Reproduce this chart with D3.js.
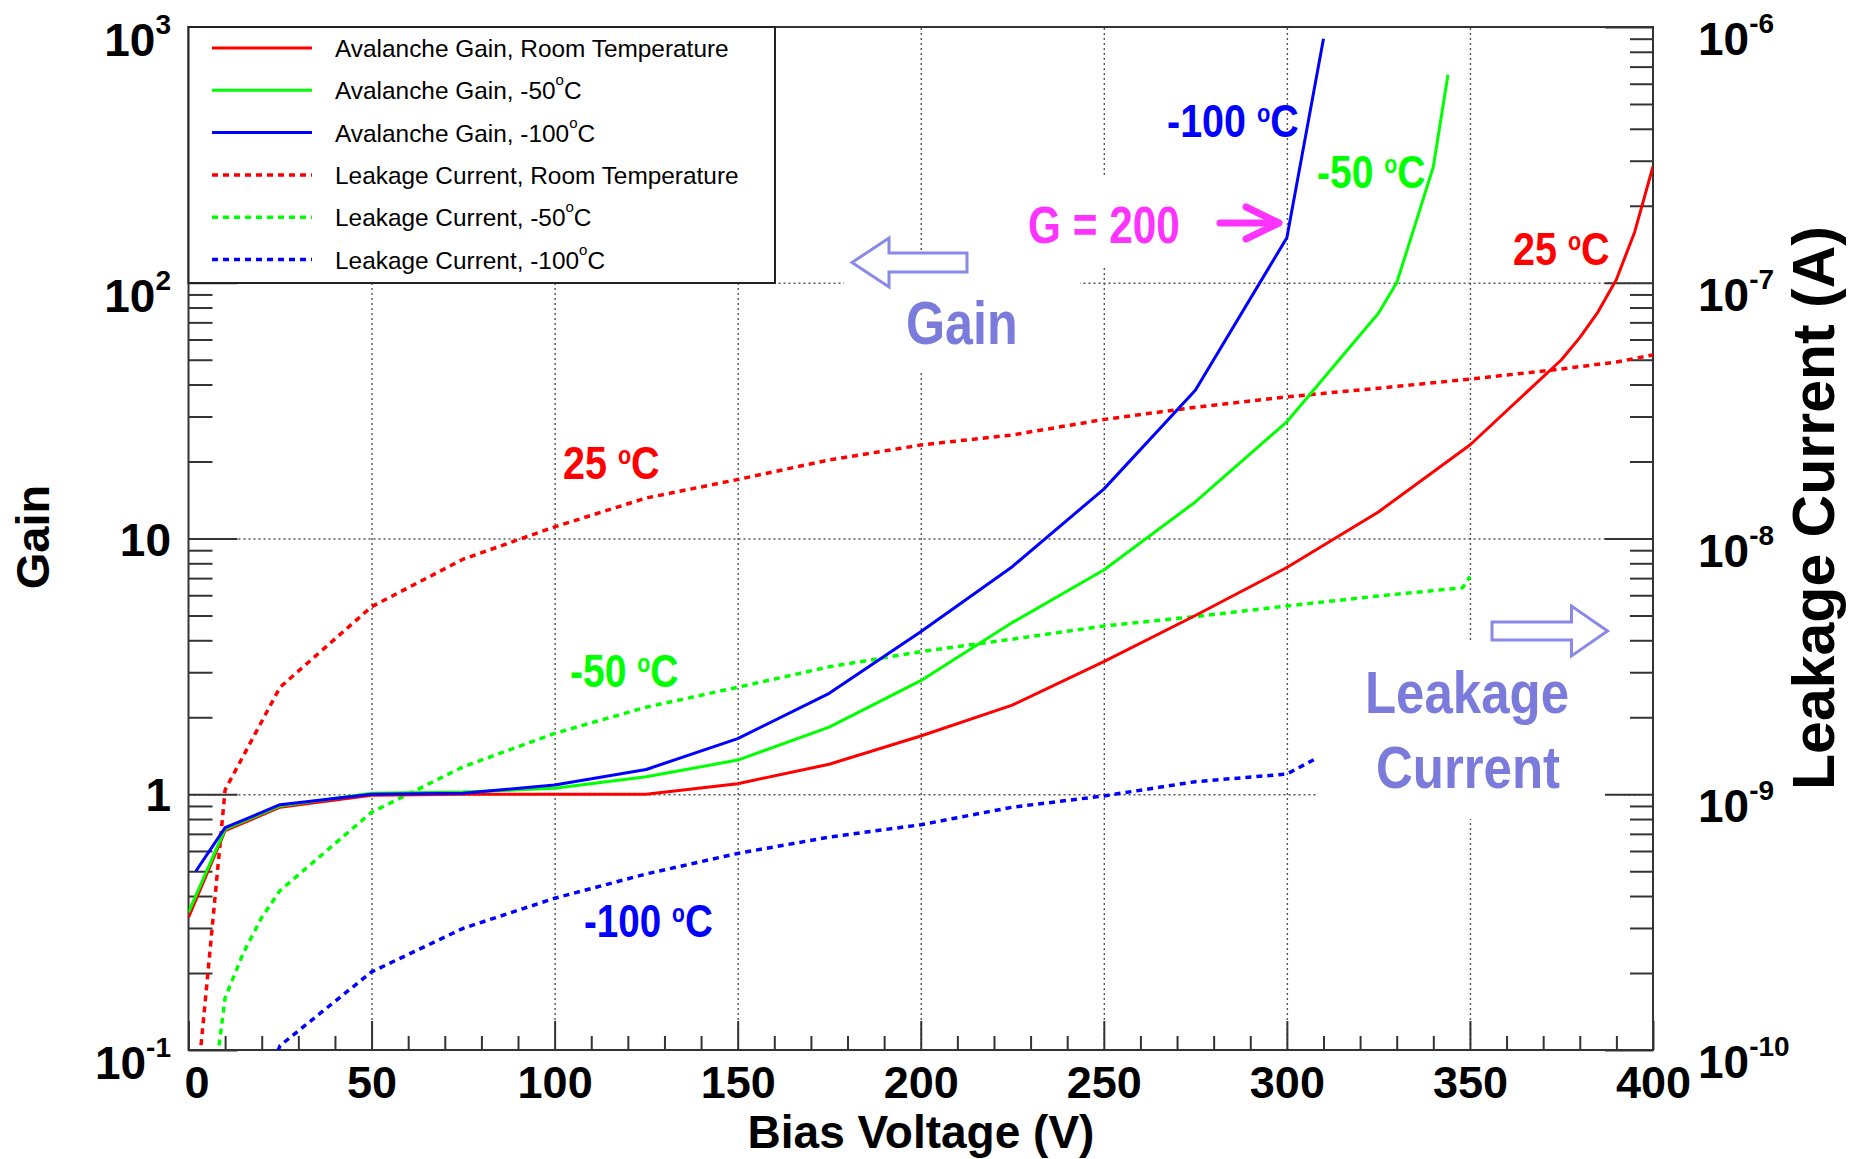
<!DOCTYPE html>
<html><head><meta charset="utf-8">
<script src="https://cdn.jsdelivr.net/npm/d3@7"></script>
<style>html,body{margin:0;padding:0;background:#fff;}svg{display:block;}</style>
</head><body>
<script>
// ---------------- DATA ----------------
const xMajorTicks = [0,50,100,150,200,250,300,350,400];
const gainTicks = [0.1,1,10,100,1000];
const gainTickLabels = [["10","-1"],["1",""],["10",""],["10","2"],["10","3"]];
const leakTicks = [1e-10,1e-9,1e-8,1e-7,1e-6];
const leakTickLabels = [["10","-10"],["10","-9"],["10","-8"],["10","-7"],["10","-6"]];

const voltsGainRoom = [0,10,25,50,75,100,125,150,175,200,225,250,275,300,325,350,375,380,385,390,395,400];
const gainRoom      = [0.33,0.72,0.89,0.99,1.0,1.0,1.0,1.10,1.31,1.69,2.23,3.30,5.0,7.7,12.7,23.2,50,61,77,103,158,285];

const voltsGain50 = [0,10,25,50,75,100,125,150,175,200,225,250,275,300,325,330,335,340,344];
const gain50      = [0.345,0.73,0.90,1.01,1.02,1.055,1.17,1.36,1.83,2.78,4.69,7.53,13.9,28.6,76,100,168,284,650];

const voltsGain100 = [2,10,25,50,75,100,125,150,175,200,225,250,275,300,310];
const gain100      = [0.50,0.74,0.91,1.0,1.01,1.087,1.25,1.65,2.48,4.32,7.76,15.6,38,150,900];

const voltsLeakRoom = [0,5,10,25,50,75,100,125,150,175,200,225,250,275,300,325,350,375,390,400];
const leakRoom      = [3.2e-11,1.8e-10,1.04e-9,2.62e-9,5.41e-9,8.3e-9,1.11e-8,1.44e-8,1.70e-8,2.03e-8,2.32e-8,2.54e-8,2.92e-8,3.26e-8,3.58e-8,3.87e-8,4.2e-8,4.6e-8,4.9e-8,5.22e-8];

const voltsLeak50 = [0,10,15,20,25,50,75,100,125,150,175,200,225,250,275,300,325,348,350];
const leak50      = [1.2e-11,1.6e-10,2.4e-10,3.3e-10,4.2e-10,8.5e-10,1.28e-9,1.73e-9,2.19e-9,2.62e-9,3.15e-9,3.61e-9,4.04e-9,4.55e-9,4.95e-9,5.45e-9,5.96e-9,6.42e-9,7.1e-9];

const voltsLeak100 = [10,25,50,75,100,125,150,175,200,225,250,275,300,308];
const leak100      = [3e-11,1.04e-10,2.02e-10,2.99e-10,3.92e-10,4.88e-10,5.87e-10,6.8e-10,7.6e-10,8.9e-10,9.85e-10,1.12e-9,1.2e-9,1.38e-9];

const legendLabels = [
  ["Avalanche Gain, Room Temperature", ""],
  ["Avalanche Gain, -50", "C"],
  ["Avalanche Gain, -100", "C"],
  ["Leakage Current, Room Temperature", ""],
  ["Leakage Current, -50", "C"],
  ["Leakage Current, -100", "C"]
];

// ---------------- LAYOUT ----------------
const W = 1861, H = 1159;
const L = 188.5, R = 1653, T = 27, B = 1050;
const FONT = "'Liberation Sans', Arial, Helvetica, sans-serif";
const RED = "#ff0000", GREEN = "#00ff00", BLUE = "#0000ff";
const LAV = "#7b7bdc", LAV2 = "#8a8ae6", MAG = "#ff33ff";

const x = d3.scaleLinear().domain([0,400]).range([L,R]);
const yG = d3.scaleLog().domain([0.1,1000]).range([B,T]);
const yL = d3.scaleLog().domain([1e-10,1e-6]).range([B,T]);

const svg = d3.select("body").append("svg").attr("width",W).attr("height",H);
svg.append("rect").attr("width",W).attr("height",H).attr("fill","#fff");

svg.append("defs").append("clipPath").attr("id","plotclip")
  .append("rect").attr("x",L).attr("y",T).attr("width",R-L).attr("height",B-T);

// ---------------- GRID ----------------
const gridX = svg.append("g").attr("transform",`translate(0,${B})`)
  .call(d3.axisBottom(x).tickValues([50,100,150,200,250,300,350]).tickSize(-(B-T)).tickFormat(""));
const gridY = svg.append("g").attr("transform",`translate(${L},0)`)
  .call(d3.axisLeft(yG).tickValues([1,10,100]).tickSize(-(R-L)).tickFormat(""));
[gridX,gridY].forEach(g=>{
  g.select(".domain").remove();
  g.selectAll("line").attr("stroke","#555").attr("stroke-width",1.4).attr("stroke-dasharray","2,3");
});

// white label boxes that cover the grid
const boxes = [[1005,177,200,88],[844,268,236,102],[1316,640,304,179]];
svg.append("g").selectAll("rect").data(boxes).join("rect")
  .attr("x",d=>d[0]).attr("y",d=>d[1]).attr("width",d=>d[2]).attr("height",d=>d[3]).attr("fill","#fff");

// ---------------- AXES ----------------
function styleAxis(g){
  g.select(".domain").remove();
  g.selectAll("line").attr("stroke","#333").attr("stroke-width",2);
}
const minorX = d3.range(0,401,10).filter(v=>v%50!==0);
styleAxis(svg.append("g").attr("transform",`translate(0,${B})`)
  .call(d3.axisBottom(x).tickValues(minorX).tickSizeInner(-14).tickSizeOuter(0).tickFormat("")));
const xAx = svg.append("g").attr("transform",`translate(0,${B})`)
  .call(d3.axisBottom(x).tickValues(xMajorTicks).tickSizeInner(-29).tickSizeOuter(0).tickPadding(16).tickFormat(d3.format("d")));
styleAxis(xAx);
xAx.selectAll("text").attr("font-family",FONT).attr("font-weight","bold").attr("font-size",45).attr("fill","#000");
xAx.selectAll(".tick").filter(d=>d===0).select("text").attr("dx",8);

function minorLog(lo,hi){
  const out=[];
  for(let e=lo;e<hi;e++) for(let m=2;m<=9;m++) out.push(m*Math.pow(10,e));
  return out;
}
const minorGain = minorLog(-1,3);
const minorLeak = minorLog(-10,-6);
styleAxis(svg.append("g").attr("transform",`translate(${L},0)`)
  .call(d3.axisLeft(yG).tickValues(minorGain).tickSizeInner(-24).tickSizeOuter(0).tickFormat("")));
styleAxis(svg.append("g").attr("transform",`translate(${L},0)`)
  .call(d3.axisLeft(yG).tickValues(gainTicks).tickSizeInner(-49).tickSizeOuter(0).tickFormat("")));
styleAxis(svg.append("g").attr("transform",`translate(${R},0)`)
  .call(d3.axisRight(yL).tickValues(minorLeak).tickSizeInner(-23).tickSizeOuter(0).tickFormat("")));
styleAxis(svg.append("g").attr("transform",`translate(${R},0)`)
  .call(d3.axisRight(yL).tickValues(leakTicks).tickSizeInner(-48).tickSizeOuter(0).tickFormat("")));

svg.append("rect").attr("x",L).attr("y",T).attr("width",R-L).attr("height",B-T)
  .attr("fill","none").attr("stroke","#333").attr("stroke-width",2);

// tick labels with exponents
function expLabel(px, py, base, exp, anchor){
  const t = svg.append("text").attr("x",px).attr("y",py).attr("text-anchor",anchor)
    .attr("font-family",FONT).attr("font-weight","bold").attr("font-size",46).attr("fill","#000");
  t.append("tspan").text(base);
  if(exp) t.append("tspan").attr("font-size",28).attr("dy",-22).text(exp);
}
gainTicks.forEach((v,i)=>{
  const lab = gainTickLabels[i];
  expLabel(171, yG(v) + (lab[1] ? 29 : 17), lab[0], lab[1], "end");
});
leakTicks.forEach((v,i)=>{
  const lab = leakTickLabels[i];
  expLabel(1698, yL(v) + 28, lab[0], lab[1], "start");
});

// axis titles
svg.append("text").attr("x",921).attr("y",1148).attr("text-anchor","middle")
  .attr("font-family",FONT).attr("font-weight","bold").attr("font-size",46).text("Bias Voltage (V)");
svg.append("text").attr("transform","translate(49,537) rotate(-90)").attr("text-anchor","middle")
  .attr("font-family",FONT).attr("font-weight","bold").attr("font-size",47).text("Gain");
svg.append("text").attr("transform","translate(1834,508) rotate(-90)").attr("text-anchor","middle")
  .attr("font-family",FONT).attr("font-weight","bold").attr("font-size",59).text("Leakage Current (A)");

// ---------------- CURVES ----------------
const plot = svg.append("g").attr("clip-path","url(#plotclip)");
const lineG = d3.line().x(d=>x(d[0])).y(d=>yG(d[1]));
const lineL = d3.line().x(d=>x(d[0])).y(d=>yL(d[1]));
const series = [
  {v:voltsLeakRoom, d:leakRoom, c:RED, dash:true},
  {v:voltsLeak50, d:leak50, c:GREEN, dash:true},
  {v:voltsLeak100, d:leak100, c:BLUE, dash:true},
  {v:voltsGainRoom, d:gainRoom, c:RED, dash:false},
  {v:voltsGain50, d:gain50, c:GREEN, dash:false},
  {v:voltsGain100, d:gain100, c:BLUE, dash:false}
];
series.forEach(s=>{
  plot.append("path").datum(d3.zip(s.v,s.d))
    .attr("d", s.dash ? lineL : lineG)
    .attr("fill","none").attr("stroke",s.c)
    .attr("stroke-width", s.dash ? 3.5 : 3)
    .attr("stroke-dasharray", s.dash ? "6,5" : null)
    .attr("stroke-linejoin","round");
});

// ---------------- LEGEND ----------------
const leg = svg.append("g");
leg.append("rect").attr("x",L).attr("y",T).attr("width",775-L).attr("height",283-T)
  .attr("fill","#fff").attr("stroke","#222").attr("stroke-width",2);
const legStyles = [[RED,false],[GREEN,false],[BLUE,false],[RED,true],[GREEN,true],[BLUE,true]];
legendLabels.forEach((lab,i)=>{
  const by = 57 + i*42.3;
  leg.append("line").attr("x1",212).attr("x2",312).attr("y1",by-9).attr("y2",by-9)
    .attr("stroke",legStyles[i][0]).attr("stroke-width",legStyles[i][1]?3.5:3)
    .attr("stroke-dasharray",legStyles[i][1]?"6,5":null);
  const t = leg.append("text").attr("x",335).attr("y",by).attr("font-family",FONT)
    .attr("font-size",24.4).attr("fill","#000");
  t.append("tspan").text(lab[0]);
  if(lab[1]){
    t.append("tspan").attr("font-size",15).attr("dy",-14).text("o");
    t.append("tspan").attr("dy",14).text(lab[1]);
  }
});

// ---------------- ANNOTATIONS ----------------
function note(px, py, size, color, sx, main, deg, anchor){
  const t = svg.append("text").attr("transform",`translate(${px},${py}) scale(${sx},1)`)
    .attr("font-family",FONT).attr("font-weight","bold").attr("font-size",size)
    .attr("fill",color).attr("text-anchor",anchor||"start");
  t.append("tspan").text(main);
  if(deg){
    const r = Math.round(size*0.32);
    t.append("tspan").attr("font-size",Math.round(size*0.55)).attr("dy",-r).text("o");
    t.append("tspan").attr("dy",r).text(deg);
  }
}
note(1167,137,47,BLUE,0.84,"-100 ","C");
note(1317,188,46,GREEN,0.85,"-50 ","C");
note(1513,265,46,RED,0.86,"25 ","C");
note(563,479,46,RED,0.86,"25 ","C");
note(570,687,46,GREEN,0.85,"-50 ","C");
note(584,937,46,BLUE,0.84,"-100 ","C");
note(1028,243,51,MAG,0.83,"G = 200","");
note(906,344,62,LAV,0.81,"Gain","");
note(1467,713,60,LAV,0.85,"Leakage","","middle");
note(1468,788,60,LAV,0.85,"Current","","middle");

// hollow arrows
svg.append("path").attr("d","M852,262.5 L889,238 L889,253 L967,253 L967,272 L889,272 L889,287 Z")
  .attr("fill","#fff").attr("stroke",LAV2).attr("stroke-width",3).attr("stroke-linejoin","miter");
svg.append("path").attr("d","M1492,622 L1571.5,622 L1571.5,606 L1607.5,631 L1571.5,656 L1571.5,640 L1492,640 Z")
  .attr("fill","#fff").attr("stroke",LAV2).attr("stroke-width",3).attr("stroke-linejoin","miter");

// magenta arrow
const ma = svg.append("g").attr("stroke",MAG).attr("stroke-width",7).attr("stroke-linecap","round").attr("fill","none");
ma.append("line").attr("x1",1220).attr("y1",223).attr("x2",1276).attr("y2",223);
ma.append("polyline").attr("points","1246,207 1279,223 1246,239").attr("stroke-linejoin","round");
</script>
</body></html>
